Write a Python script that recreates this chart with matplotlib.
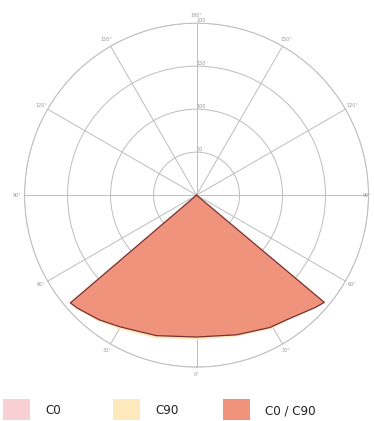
import numpy as np
import matplotlib.pyplot as plt
from matplotlib.patches import Rectangle

# luminous intensity distribution, gamma angle from nadir (deg)
gamma = [-52.5, -49.5, -46.5, -38, -30, -16, 0, 16, 29, 36, 46.5, 50, 52.5]
c0 = [0, 193, 191, 184, 177, 170, 165, 169, 176, 179, 190, 194, 0]
c90 = [0, 193, 192, 186, 180, 173, 168, 171, 178, 180, 190, 194, 0]

ring_values = [50, 100, 150, 200]
ring_labels = ["50", "100", "150", "200"]
spoke_angles = list(range(0, 360, 30))
spoke_labels = ["0°", "30°", "60°", "", "120°", "150°", "180°",
                "150°", "120°", "90°", "60°", "30°"]

legend_names = ["C0", "C90", "C0 / C90"]
COL_C0 = "#f9cfd6"
COL_C90 = "#fde9bb"
COL_BOTH = "#f0937c"

fig = plt.figure(figsize=(3.74, 4.21), dpi=100)
ax = fig.add_axes([0.0655, 0.128, 0.92, 0.817], projection="polar")
ax.set_theta_zero_location("S")
ax.set_theta_direction(1)
ax.set_ylim(0, 200)

th = np.radians(gamma)
ax.fill(th, c90, color=COL_C90, lw=0, zorder=2)
ax.fill(th, c0, color=COL_BOTH, lw=0, zorder=3)
ax.plot(th, c0, color="#7a3030", lw=0.9, zorder=4)

ax.set_rgrids(ring_values, ring_labels, angle=180, fontsize=3.5, color="#999999")
ax.set_thetagrids(spoke_angles, spoke_labels, fontsize=3.5, color="#999999")
ax.tick_params(pad=-5)
# right-hand 90° label sits against the figure edge
ax.text(np.radians(90), 203, "90°", fontsize=3.5, color="#999999",
        ha="right", va="center", clip_on=False)
ax.grid(True, color="#bdbdbd", lw=0.7)
ax.spines["polar"].set_color("#bdbdbd")
ax.spines["polar"].set_linewidth(0.7)
ax.set_axisbelow(True)

# legend row
font = ["DejaVu Sans Condensed", "Liberation Sans Narrow", "DejaVu Sans"]
for i, (name, col) in enumerate(zip(legend_names, [COL_C0, COL_C90, COL_BOTH])):
    x0 = (3 + 110 * i) / 374
    fig.patches.append(Rectangle((x0, 1 / 421), 27 / 374, 21 / 421,
                                 transform=fig.transFigure, color=col, lw=0))
    fig.text(x0 + 42 / 374, 10 / 421, name, fontsize=9.5, family=font,
             stretch="condensed", color="#222222", va="center", ha="left")

fig.savefig("out.png", dpi=100)
